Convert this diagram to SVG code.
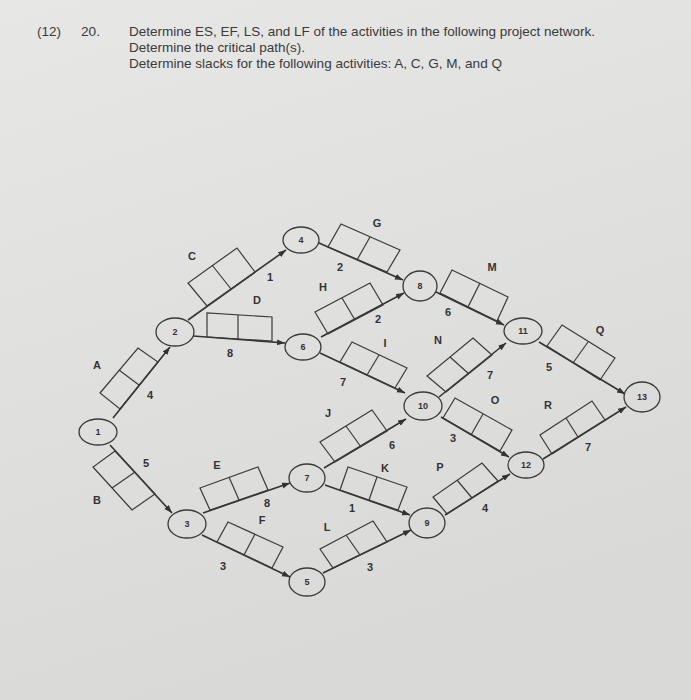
<svg xmlns="http://www.w3.org/2000/svg" width="691" height="700" viewBox="0 0 691 700">
<defs>
<linearGradient id="bg" x1="0" y1="0" x2="0.3" y2="1">
<stop offset="0" stop-color="#e7e7e6"/>
<stop offset="1" stop-color="#d9d9d8"/>
</linearGradient>
<marker id="arr" markerUnits="userSpaceOnUse" markerWidth="9" markerHeight="7" refX="8" refY="3" orient="auto">
<path d="M0,0 L8,3 L0,6 z" fill="#333"/>
</marker>
</defs>
<style>
.t{font-family:"Liberation Sans",Arial,sans-serif;font-size:13px;fill:#3a3a3a}
.n{fill:none;stroke:#3a3a3a;stroke-width:1.3}
.nt{font-family:"Liberation Sans",Arial,sans-serif;font-size:9px;font-weight:bold;fill:#333;text-anchor:middle}
.c{stroke:#333;stroke-width:1.6;fill:none;marker-end:url(#arr)}
.b{fill:none;stroke:#3a3a3a;stroke-width:1.2}
.l{font-family:"Liberation Sans",Arial,sans-serif;font-size:11px;font-weight:bold;fill:#333;text-anchor:middle}
</style>
<rect width="691" height="700" fill="url(#bg)"/>
<g id="title">
<text class="t" x="37" y="36" textLength="24" lengthAdjust="spacingAndGlyphs">(12)</text>
<text class="t" x="81" y="36" textLength="19" lengthAdjust="spacingAndGlyphs">20.</text>
<text class="t" x="129" y="36" textLength="466" lengthAdjust="spacingAndGlyphs">Determine ES, EF, LS, and LF of the activities in the following project network.</text>
<text class="t" x="129" y="52" textLength="176" lengthAdjust="spacingAndGlyphs">Determine the critical path(s).</text>
<text class="t" x="129" y="68" textLength="373" lengthAdjust="spacingAndGlyphs">Determine slacks for the following activities: A, C, G, M, and Q</text>
</g>
<g id="connectors">
<line class="c" x1="113" y1="418" x2="170" y2="347"/>
<line class="c" x1="110" y1="445" x2="172" y2="513"/>
<line class="c" x1="188" y1="320" x2="286" y2="250"/>
<line class="c" x1="193" y1="336" x2="285" y2="343"/>
<line class="c" x1="203" y1="513" x2="290" y2="483"/>
<line class="c" x1="202" y1="535" x2="290" y2="577"/>
<line class="c" x1="319" y1="243" x2="403" y2="280"/>
<line class="c" x1="321" y1="337" x2="404" y2="293"/>
<line class="c" x1="320" y1="353" x2="405" y2="393"/>
<line class="c" x1="324" y1="468" x2="406" y2="419"/>
<line class="c" x1="325" y1="485" x2="410" y2="515"/>
<line class="c" x1="323" y1="573" x2="411" y2="530"/>
<line class="c" x1="436" y1="292" x2="504" y2="325"/>
<line class="c" x1="439" y1="397" x2="506" y2="343"/>
<line class="c" x1="441" y1="417" x2="509" y2="457"/>
<line class="c" x1="445" y1="515" x2="510" y2="474"/>
<line class="c" x1="539" y1="342" x2="625" y2="394"/>
<line class="c" x1="543" y1="459" x2="626" y2="407"/>
</g>
<g id="act-A"><polygon class="b" points="120,409 158,362 138,348 100,393"/><line class="b" x1="139" y1="385" x2="119" y2="370"/><text class="l" x="97" y="369">A</text><text class="l" x="150" y="399">4</text></g>
<g id="act-B"><polygon class="b" points="115,451 155,494 132,510 93,467"/><line class="b" x1="135" y1="472" x2="112" y2="488"/><text class="l" x="97" y="504">B</text><text class="l" x="146" y="467">5</text></g>
<g id="act-C"><polygon class="b" points="207,306 255,272 237,248 188,283"/><line class="b" x1="231" y1="289" x2="212" y2="265"/><text class="l" x="192" y="260">C</text><text class="l" x="270" y="281">1</text></g>
<g id="act-D"><polygon class="b" points="207,337 272,341 272,317 207,313"/><line class="b" x1="238" y1="339" x2="238" y2="315"/><text class="l" x="257" y="304">D</text><text class="l" x="230" y="357">8</text></g>
<g id="act-E"><polygon class="b" points="210,510 268,490 258,467 200,488"/><line class="b" x1="239" y1="500" x2="229" y2="477"/><text class="l" x="217" y="469">E</text><text class="l" x="267" y="507">8</text></g>
<g id="act-F"><polygon class="b" points="217,542 272,568 283,547 228,522"/><line class="b" x1="244" y1="555" x2="255" y2="534"/><text class="l" x="262" y="524">F</text><text class="l" x="223" y="570">3</text></g>
<g id="act-G"><polygon class="b" points="328,247 387,272 400,250 341,224"/><line class="b" x1="357" y1="260" x2="370" y2="237"/><text class="l" x="377" y="227">G</text><text class="l" x="340" y="271">2</text></g>
<g id="act-H"><polygon class="b" points="328,334 383,305 370,283 315,312"/><line class="b" x1="355" y1="320" x2="342" y2="298"/><text class="l" x="323" y="291">H</text><text class="l" x="378" y="323">2</text></g>
<g id="act-I"><polygon class="b" points="340,362 395,388 407,368 352,342"/><line class="b" x1="367" y1="375" x2="379" y2="355"/><text class="l" x="385" y="347">I</text><text class="l" x="343" y="386">7</text></g>
<g id="act-J"><polygon class="b" points="335,462 387,431 372,410 320,442"/><line class="b" x1="361" y1="447" x2="346" y2="426"/><text class="l" x="328" y="417">J</text><text class="l" x="392" y="449">6</text></g>
<g id="act-K"><polygon class="b" points="340,490 398,510 407,487 348,467"/><line class="b" x1="369" y1="500" x2="377" y2="477"/><text class="l" x="385" y="472">K</text><text class="l" x="352" y="512">1</text></g>
<g id="act-L"><polygon class="b" points="333,568 387,542 373,521 320,549"/><line class="b" x1="360" y1="555" x2="346" y2="535"/><text class="l" x="327" y="531">L</text><text class="l" x="370" y="571">3</text></g>
<g id="act-M"><polygon class="b" points="440,293 497,321 508,297 452,270"/><line class="b" x1="468" y1="307" x2="480" y2="283"/><text class="l" x="492" y="271">M</text><text class="l" x="448" y="316">6</text></g>
<g id="act-N"><polygon class="b" points="446,392 492,355 473,338 427,376"/><line class="b" x1="469" y1="374" x2="450" y2="357"/><text class="l" x="438" y="344">N</text><text class="l" x="490" y="379">7</text></g>
<g id="act-O"><polygon class="b" points="443,418 500,451 512,430 455,398"/><line class="b" x1="471" y1="435" x2="483" y2="414"/><text class="l" x="495" y="404">O</text><text class="l" x="453" y="442">3</text></g>
<g id="act-P"><polygon class="b" points="447,514 498,481 482,463 433,497"/><line class="b" x1="472" y1="498" x2="457" y2="480"/><text class="l" x="440" y="471">P</text><text class="l" x="485" y="512">4</text></g>
<g id="act-Q"><polygon class="b" points="547,346 600,380 615,358 562,325"/><line class="b" x1="573" y1="363" x2="588" y2="342"/><text class="l" x="600" y="334">Q</text><text class="l" x="549" y="371">5</text></g>
<g id="act-R"><polygon class="b" points="552,454 605,420 592,401 540,435"/><line class="b" x1="578" y1="437" x2="566" y2="418"/><text class="l" x="548" y="409">R</text><text class="l" x="588" y="451">7</text></g>
<g id="node-1"><ellipse class="n" cx="98" cy="432" rx="19" ry="13"/><text class="nt" x="98" y="435">1</text></g>
<g id="node-2"><ellipse class="n" cx="175" cy="332" rx="19" ry="14"/><text class="nt" x="175" y="335">2</text></g>
<g id="node-3"><ellipse class="n" cx="187" cy="524" rx="19" ry="14"/><text class="nt" x="187" y="527">3</text></g>
<g id="node-4"><ellipse class="n" cx="301" cy="240" rx="18" ry="13"/><text class="nt" x="301" y="243">4</text></g>
<g id="node-5"><ellipse class="n" cx="307" cy="582" rx="18" ry="14"/><text class="nt" x="307" y="585">5</text></g>
<g id="node-6"><ellipse class="n" cx="303" cy="347" rx="18" ry="13"/><text class="nt" x="303" y="350">6</text></g>
<g id="node-7"><ellipse class="n" cx="307" cy="478" rx="18" ry="14"/><text class="nt" x="307" y="481">7</text></g>
<g id="node-8"><ellipse class="n" cx="420" cy="286" rx="17" ry="15"/><text class="nt" x="420" y="289">8</text></g>
<g id="node-9"><ellipse class="n" cx="427" cy="523" rx="18" ry="15"/><text class="nt" x="427" y="526">9</text></g>
<g id="node-10"><ellipse class="n" cx="423" cy="406" rx="19" ry="14"/><text class="nt" x="423" y="409">10</text></g>
<g id="node-11"><ellipse class="n" cx="523" cy="331" rx="19" ry="13"/><text class="nt" x="523" y="334">11</text></g>
<g id="node-12"><ellipse class="n" cx="526" cy="465" rx="18" ry="13"/><text class="nt" x="526" y="468">12</text></g>
<g id="node-13"><ellipse class="n" cx="642" cy="397" rx="18" ry="15"/><text class="nt" x="642" y="400">13</text></g>
</svg>
